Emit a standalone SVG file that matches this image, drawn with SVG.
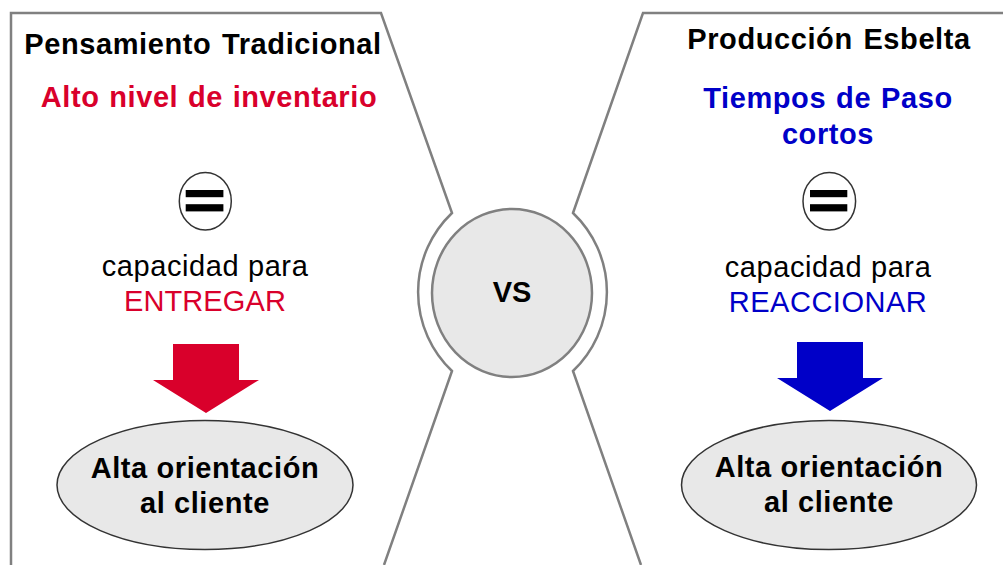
<svg xmlns="http://www.w3.org/2000/svg" width="1003" height="565" viewBox="0 0 1003 565">
<style>
text{font-family:"Liberation Sans",Arial,sans-serif;text-anchor:middle;font-size:29px;letter-spacing:.6px}
.b{font-weight:700;fill:#000}
.r{fill:#000}
.red{fill:#d9002b}.blue{fill:#0000c8}
.panel{fill:#fff;stroke:#808080;stroke-width:2.500}
.eq{fill:#fff;stroke:#333;stroke-width:1.500}
.ell{fill:#e8e8e8;stroke:#333;stroke-width:1.500}
</style>
<rect width="1003" height="565" fill="#fff"/>
<g id="connectors"></g>
<g id="panel-left">
<path class="panel" d="M11 565V13H381L452 213A109 109 0 0 0 452 371L384 565"/>
<text class="b" x="203" y="53.700" word-spacing="2">Pensamiento Tradicional</text>
<text class="b red" x="209" y="106.700" word-spacing="1">Alto nivel de inventario</text>
<text class="r" x="205" y="275.700">capacidad para</text>
<text class="r red" x="205" y="310.700" style="letter-spacing:.1px">ENTREGAR</text>
</g>
<g id="panel-right">
<path class="panel" d="M1003 13H643L573 213A109 109 0 0 1 573 371L641 565"/>
<text class="b" x="829" y="48.700" word-spacing="2">Producción Esbelta</text>
<text class="b blue" x="828" y="107.700" word-spacing="1.300">Tiempos de Paso</text>
<text class="b blue" x="828" y="143.700">cortos</text>
<text class="r" x="828" y="276.700">capacidad para</text>
<text class="r blue" x="828" y="311.700" style="letter-spacing:.5px">REACCIONAR</text>
</g>
<g id="vs">
<ellipse cx="512" cy="293" rx="80" ry="84" fill="#e8e8e8" stroke="#808080" stroke-width="2.500"/>
<text class="b" x="512" y="301.700" style="letter-spacing:0">VS</text>
</g>
<g id="eq-left">
<ellipse class="eq" cx="205.300" cy="201.200" rx="26" ry="28.800"/>
<rect x="185.700" y="190" width="37.700" height="7.200" fill="#000"/>
<rect x="185.700" y="204.200" width="37.700" height="7.200" fill="#000"/>
</g>
<g id="eq-right">
<ellipse class="eq" cx="829.300" cy="201.200" rx="26.300" ry="28.800"/>
<rect x="810" y="190" width="37.300" height="7.200" fill="#000"/>
<rect x="810" y="204.200" width="37.300" height="7.200" fill="#000"/>
</g>
<g id="arrow-left"><polygon class="red" points="173,344 239,344 239,380 259,380 206,413 153,380 173,380"/></g>
<g id="arrow-right"><polygon class="blue" points="797,342 863,342 863,378 883,378 830,411 777,378 797,378"/></g>
<g id="outcome-left">
<ellipse class="ell" cx="205" cy="485" rx="148" ry="64.500"/>
<text class="b" x="205" y="477.700">Alta orientación</text>
<text class="b" x="205" y="512.700">al cliente</text>
</g>
<g id="outcome-right">
<ellipse class="ell" cx="829" cy="485" rx="147.500" ry="64.500"/>
<text class="b" x="829" y="476.700">Alta orientación</text>
<text class="b" x="829" y="511.700">al cliente</text>
</g>
</svg>
